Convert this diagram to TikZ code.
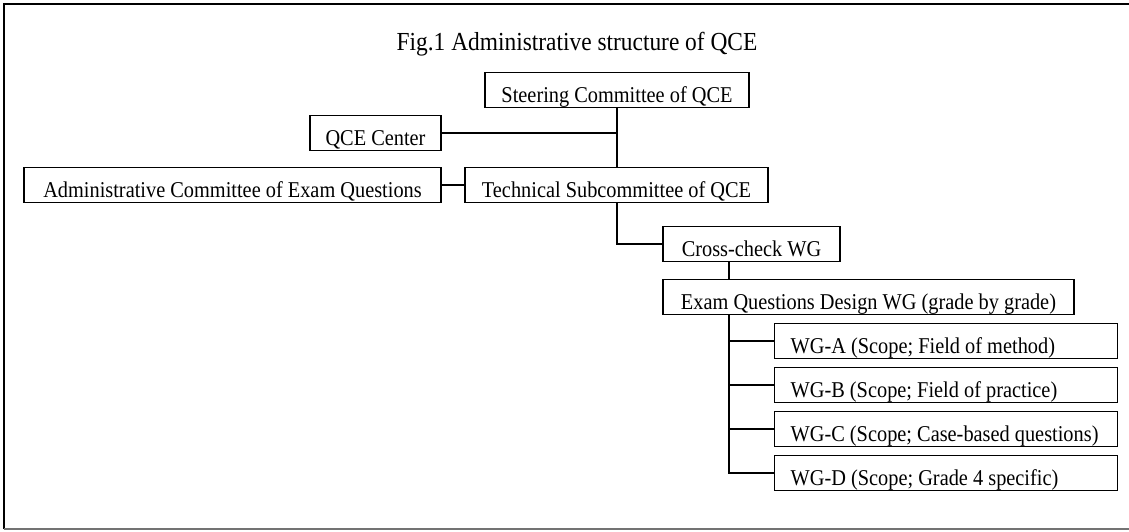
\documentclass[tikz,border=0pt]{standalone}
\usepackage{fontspec}
\setmainfont{Liberation Serif}[FakeStretch=0.9]
\begin{document}
\begin{tikzpicture}[x=1pt,y=-1pt]
\tikzset{
  box/.style={draw, line width=1.3pt, inner xsep=0pt, inner ysep=0pt,
    text height=30pt, text depth=5pt, anchor=south,
    font=\fontsize{22.6pt}{27pt}\selectfont},
  wgbox/.style={box, anchor=south west, inner xsep=16pt, minimum width=343pt},
  link/.style={line width=1.3pt},
  frameline/.style={line width=2pt}
}
\useasboundingbox (0,0) rectangle (1129,531);
\draw[frameline] (1131,4) -- (4,4) -- (4,529);
\draw[line width=1.6pt, black!55] (4,529) -- (1131,529);

\node[font=\fontsize{26pt}{30pt}\selectfont, anchor=base] (title) at (577,50) {Fig.1 Administrative structure of QCE};

\node[box, minimum width=264pt] (steer) at (617,108) {Steering Committee of QCE};
\node[box, minimum width=131pt] (qce) at (375.5,151) {QCE Center};
\node[box, minimum width=417pt] (admin) at (232.5,203) {Administrative Committee of Exam Questions};
\node[box, minimum width=303pt] (tech) at (616.5,203) {Technical Subcommittee of QCE};
\node[box, minimum width=177pt] (cross) at (751.5,262) {Cross-check WG};
\node[box, minimum width=411pt] (exam) at (868.5,315) {Exam Questions Design WG (grade by grade)};
\node[wgbox] (wga) at (774,359) {\makebox[311pt][l]{WG-A (Scope; Field of method)}};
\node[wgbox] (wgb) at (774,403) {\makebox[311pt][l]{WG-B (Scope; Field of practice)}};
\node[wgbox] (wgc) at (774,447) {\makebox[311pt][l]{WG-C (Scope; Case-based questions)}};
\node[wgbox] (wgd) at (774,491) {\makebox[311pt][l]{WG-D (Scope; Grade 4 specific)}};

\coordinate (spine) at (729,0);

\draw[link] (steer.south) -- (steer.south |- tech.north);
\draw[link] (qce.east) -- (qce.east -| steer.south);
\draw[link] (admin.east) -- (tech.west);
\draw[link] (tech.south -| steer.south) |- (cross.west);
\draw[link] (cross.south -| spine) -- (exam.north -| spine);
\draw[link] (exam.south -| spine) |- (wgd.west);
\draw[link] (wga.west -| spine) -- (wga.west);
\draw[link] (wgb.west -| spine) -- (wgb.west);
\draw[link] (wgc.west -| spine) -- (wgc.west);
\end{tikzpicture}
\end{document}
